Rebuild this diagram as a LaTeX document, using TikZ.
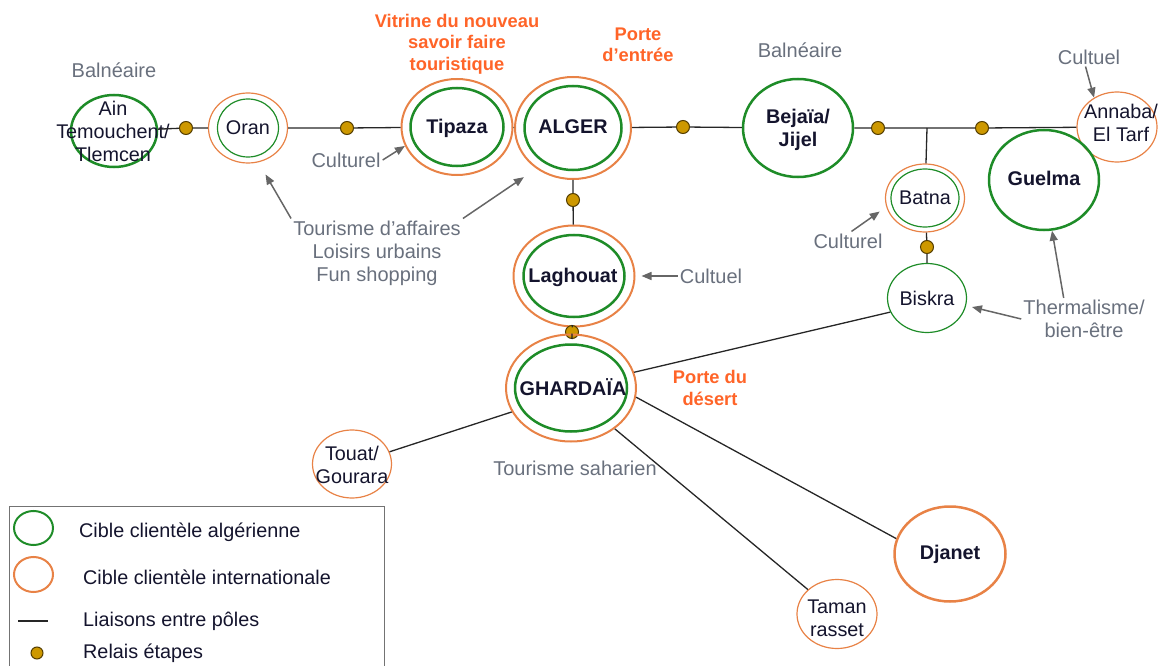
\documentclass[tikz,border=0pt]{standalone}
\usepackage{fontspec}
\setmainfont{Liberation Sans}
\usetikzlibrary{shapes.geometric,arrows.meta}

\definecolor{polegreen}{RGB}{30,140,40}
\definecolor{poleorange}{RGB}{232,130,70}
\definecolor{notegray}{RGB}{105,112,125}
\definecolor{roleorange}{RGB}{255,100,40}
\definecolor{relaisfill}{RGB}{205,152,0}
\definecolor{relaisdraw}{RGB}{85,62,0}
\definecolor{citytext}{RGB}{20,20,45}

\tikzset{
  pole/.style={ellipse, inner sep=0pt},
  alg/.style={pole, draw=polegreen, line width=2.5pt},
  algthin/.style={pole, draw=polegreen, line width=1.2pt},
  intl/.style={pole, draw=poleorange, line width=2pt},
  intlthin/.style={pole, draw=poleorange, line width=1.2pt},
  city/.style={text=citytext, font=\fontsize{19.8}{23}\selectfont, align=center, inner sep=1pt},
  bigcity/.style={city, font=\fontsize{19.8}{23}\selectfont\bfseries},
  note/.style={text=notegray, font=\fontsize{20}{23}\selectfont, align=center, inner sep=2pt},
  role/.style={text=roleorange, font=\fontsize{18.3}{21.5}\selectfont\bfseries, align=center},
  relais/.style={circle, draw=relaisdraw, fill=relaisfill, line width=1pt, minimum size=13pt, inner sep=0pt},
  liaison/.style={draw=black!85, line width=1.3pt},
  pointer/.style={draw=black!60, line width=1.5pt, -{Triangle[length=10pt,width=8pt]}},
}

\begin{document}
\begin{tikzpicture}[x=1pt, y=-1pt]
\useasboundingbox (0,0) rectangle (1160,666);
\clip (0,0) rectangle (1160,666);

% poles on the coast
\node[alg, minimum width=86, minimum height=72] (ain) at (114,131) {};
\node[city] (ain-txt) at (113,131) {Ain\\Temouchent/\\Tlemcen};
\node[relais] (r1) at (186,128) {};
\node[intlthin, minimum width=79, minimum height=70] (oran) at (248,128) {};
\node[algthin, minimum width=61, minimum height=58] (oran-in) at (248,128) {};
\node[city] (oran-txt) at (248,128) {Oran};
\node[relais] (r2) at (347,128) {};
\node[intl, minimum width=111, minimum height=96] (tipaza) at (457,127) {};
\node[alg, minimum width=93, minimum height=78] (tipaza-in) at (457,127) {};
\node[bigcity] (tipaza-txt) at (457,128) {Tipaza};
\node[intl, minimum width=116, minimum height=102] (alger) at (573,128) {};
\node[alg, minimum width=97, minimum height=84] (alger-in) at (573,128) {};
\node[bigcity] (alger-txt) at (573,127) {ALGER};
\node[relais] (r3) at (683,127) {};
\node[alg, minimum width=110, minimum height=98] (bejaia) at (798,128) {};
\node[bigcity] (bejaia-txt) at (798,130) {Bejaïa/\\Jijel};
\node[relais] (r4) at (878,128) {};
\coordinate (fork) at (927,128);
\node[relais] (r5) at (982,128) {};
\node[intlthin, minimum width=80, minimum height=70] (annaba) at (1117,127) {};
\node[city] (annaba-txt) at (1121,123) {Annaba/\\El Tarf};
\node[alg, minimum width=110, minimum height=100] (guelma) at (1044,180) {};
\node[bigcity] (guelma-txt) at (1044,178) {Guelma};

% east inland
\node[intlthin, minimum width=79, minimum height=68] (batna) at (925,198) {};
\node[algthin, minimum width=68, minimum height=58] (batna-in) at (925,198) {};
\node[city] (batna-txt) at (925,198) {Batna};
\node[relais] (r6) at (927,247) {};
\node[algthin, minimum width=79, minimum height=69] (biskra) at (927,298) {};
\node[city] (biskra-txt) at (927,298) {Biskra};

% south
\node[relais] (r7) at (573,200) {};
\node[intl, minimum width=121, minimum height=101] (laghouat) at (574,276) {};
\node[alg, minimum width=101, minimum height=82] (laghouat-in) at (574,276) {};
\node[bigcity] (laghouat-txt) at (573,277) {Laghouat};
\node[relais] (r8) at (572,332) {};
\node[intl, minimum width=130, minimum height=107] (ghardaia) at (571,388) {};
\node[alg, minimum width=112, minimum height=87] (ghardaia-in) at (571,388) {};
\node[bigcity] (ghardaia-txt) at (573,387) {GHARDAÏA};
\node[intlthin, minimum width=79, minimum height=68] (touat) at (352,464) {};
\node[city] (touat-txt) at (352,465) {Touat/\\Gourara};
\node[intlthin, minimum width=80, minimum height=69] (taman) at (837,614) {};
\node[city] (taman-txt) at (837,618) {Taman\\rasset};
\node[intl, line width=2.5pt, minimum width=111, minimum height=95] (djanet) at (950,554) {};
\node[bigcity] (djanet-txt) at (950,554) {Djanet};

% links
\draw[liaison] (ain) -- (r1) -- (oran) -- (r2) -- (tipaza) -- (alger) -- (r3) -- (bejaia) -- (r4) -- (fork) -- (r5) -- (annaba);
\draw[liaison] (fork) -- (batna);
\draw[liaison] (batna) -- (r6) -- (biskra);
\draw[liaison] (alger) -- (r7) -- (laghouat) -- (r8) -- (ghardaia);
\draw[liaison] (ghardaia.14) -- (biskra.201);
\draw[liaison] (ghardaia.-8) -- (djanet.164);
\draw[liaison] (ghardaia.-43) -- (taman.140);
\draw[liaison] (ghardaia.202) -- (touat.18);

% themes
\node[note] (baln1) at (114,70) {Balnéaire};
\node[note] (baln2) at (800,50) {Balnéaire};
\node[note] (cult1) at (346,160) {Culturel};
\node[note] (tour) at (377,253) {Tourisme d’affaires\\Loisirs urbains\\Fun shopping};
\node[note] (cult2) at (711,276) {Cultuel};
\node[note] (cult3) at (1089,57) {Cultuel};
\node[note] (cult4) at (848,241) {Culturel};
\node[note] (therm) at (1084,319) {Thermalisme/\\bien-être};
\node[note] (sahara) at (575,468) {Tourisme saharien};
\node[role] (vitrine) at (457,44) {Vitrine du nouveau\\savoir faire\\touristique};
\node[role] (porte1) at (638,45) {Porte\\d’entrée};
\node[role] (porte2) at (710,388) {Porte du\\désert};

\draw[pointer] (cult1.east) -- (tipaza.200);
\draw[pointer, shorten >=14pt] (tour.north west) -- (oran.-73);
\draw[pointer, shorten >=15pt] (tour.north east) -- (alger.228);
\draw[pointer, shorten >=6pt] (cult2.west) -- (laghouat.east);
\draw[pointer] (cult3.-110) -- (annaba.128);
\draw[pointer, shorten >=8pt] (cult4.70) -- (batna.193);
\draw[pointer, shorten >=6pt] (therm.west) -- (biskra.-11);
\draw[pointer] (therm.134) -- (guelma.-81);

% legend
\draw[draw=black!55, line width=1pt] (9,680) -- (9,506) -- (384,506) -- (384,680);
\node[pole, draw=polegreen, line width=2pt, minimum width=39, minimum height=34] (leg-alg) at (33.5,528) {};
\node[pole, draw=poleorange, line width=2pt, minimum width=39, minimum height=35] (leg-intl) at (33.5,574.5) {};
\coordinate (leg-a) at (18,621);
\coordinate (leg-b) at (48,621);
\draw[liaison] (leg-a) -- (leg-b);
\node[relais, minimum size=12pt] (leg-relais) at (37,653) {};
\node[city, anchor=west] (leg-alg-txt) at (78,532) {Cible clientèle algérienne};
\node[city, anchor=west] (leg-intl-txt) at (82,577) {Cible clientèle internationale};
\node[city, anchor=west] (leg-liaison-txt) at (82,621) {Liaisons entre pôles};
\node[city, anchor=west] (leg-relais-txt) at (82,653) {Relais étapes};
\end{tikzpicture}
\end{document}
